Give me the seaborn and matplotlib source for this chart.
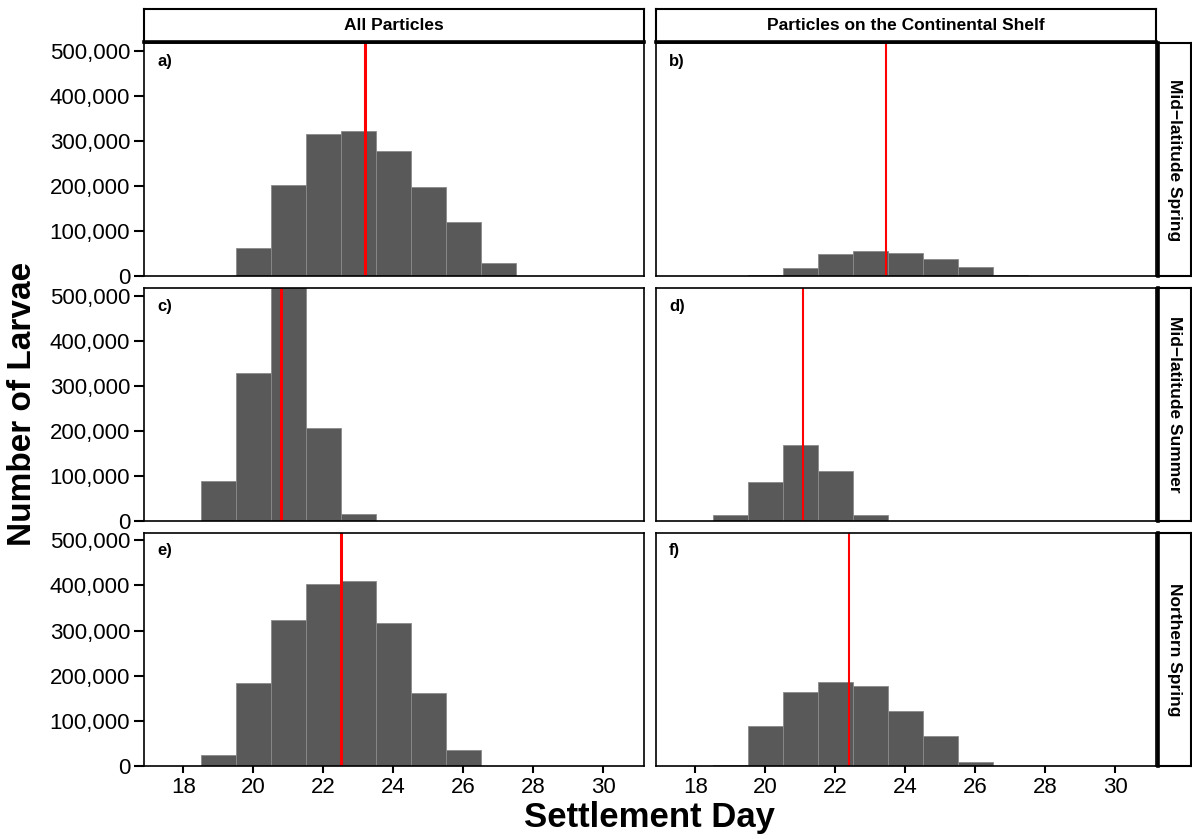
import matplotlib
matplotlib.use("Agg")
import matplotlib.pyplot as plt
import matplotlib.ticker as mticker
import numpy as np
import pandas as pd
import seaborn as sns

# settlement day bins (centred on integer days), counts
days = [19, 20, 21, 22, 23, 24, 25, 26, 27]
all_spring = [0, 63000, 202000, 315000, 322000, 277000, 198000, 121000, 29000]
shelf_spring = [0, 2000, 18000, 49000, 57000, 51000, 39000, 20000, 2500]
all_summer = [89000, 329000, 560000, 206000, 17000, 0, 0, 0, 0]
shelf_summer = [13000, 86000, 170000, 112000, 15000, 0, 0, 0, 0]
all_north = [24000, 183000, 323000, 402000, 409000, 316000, 161000, 35000, 0]
shelf_north = [3000, 89000, 163000, 186000, 178000, 122000, 66000, 8000, 0]

# mean settlement day (red lines)
mean_days = [23.18, 23.45, 20.79, 21.08, 22.51, 22.40]

columns = ["All Particles", "Particles on the Continental Shelf"]
rows = ["Mid\u2212latitude Spring", "Mid\u2212latitude Summer", "Northern Spring"]
panel_tags = ["a)", "b)", "c)", "d)", "e)", "f)"]
series = [all_spring, shelf_spring, all_summer, shelf_summer, all_north, shelf_north]

y_ticks = [0, 100000, 200000, 300000, 400000, 500000]
x_ticks = [18, 20, 22, 24, 26, 28, 30]

recs = []
for i, counts in enumerate(series):
    for d, c in zip(days, counts):
        recs.append({"row": rows[i // 2], "col": columns[i % 2], "day": d, "count": c})
df = pd.DataFrame(recs)

sns.set_theme(style="white")
plt.rcParams["font.family"] = ["Liberation Sans", "DejaVu Sans"]

W, H = 1192, 839
fig = plt.figure(figsize=(W / 100, H / 100), dpi=100)


def box(x, y, w, h):
    return [x / W, 1 - (y + h) / H, w / W, h / H]


col_x = [144, 656]
row_y = [43.3, 288.3, 533]
pw, ph = 500, 233

for i in range(6):
    r, c = i // 2, i % 2
    ax = fig.add_axes(box(col_x[c], row_y[r], pw, ph))
    sub = df[(df["row"] == rows[r]) & (df["col"] == columns[c]) & (df["count"] > 0)]
    sns.histplot(data=sub, x="day", weights="count", discrete=True, ax=ax,
                 color="#595959", edgecolor="#8a8a8a", linewidth=0.6, alpha=1)
    ax.axvline(mean_days[i], color="#ff0000", lw=2.2 if c == 0 else 1.5)
    ax.set_xlim(16.877, 31.163)
    ax.set_ylim(0, 516000)
    ax.set_xticks(x_ticks)
    ax.set_yticks(y_ticks)
    ax.yaxis.set_major_formatter(mticker.FuncFormatter(lambda v, p: f"{int(v):,}"))
    ax.set_xlabel("")
    ax.set_ylabel("")
    for s in ax.spines.values():
        s.set_color("black")
        s.set_linewidth(1.2)
    ax.tick_params(axis="y", left=(c == 0), labelleft=(c == 0), length=7, width=1.5,
                   labelsize=16, colors="black", pad=3)
    ax.tick_params(axis="x", bottom=(r == 2), labelbottom=(r == 2), length=5, width=1.5,
                   labelsize=16, colors="black", pad=3)
    ax.text(0.026, 0.955, panel_tags[i], transform=ax.transAxes, fontsize=12,
            fontweight="bold", va="top", ha="left", color="black")

# facet strips: columns on top, rows on the right
for c in range(2):
    sx = fig.add_axes(box(col_x[c], 9, pw, 33))
    sx.set_xticks([])
    sx.set_yticks([])
    sx.set_facecolor("white")
    for k, s in sx.spines.items():
        s.set_color("black")
        s.set_linewidth(2.6 if k == "bottom" else 1.5)
    sx.text(0.5, 0.5, columns[c], transform=sx.transAxes, ha="center", va="center",
            fontsize=12.5, fontweight="bold", color="black")

for r in range(3):
    sy = fig.add_axes(box(1158, row_y[r], 33, ph))
    sy.set_xticks([])
    sy.set_yticks([])
    sy.set_facecolor("white")
    for k, s in sy.spines.items():
        s.set_color("black")
        s.set_linewidth(2.6 if k == "left" else 1.5)
    sy.text(0.5, 0.5, rows[r], transform=sy.transAxes, ha="center", va="center",
            rotation=-90, fontsize=12.5, fontweight="bold", color="black")

fig.text(23 / W, 1 - 404 / H, "Number of Larvae", rotation=90, ha="center", va="center",
         fontsize=24, fontweight="bold", color="black")
fig.text(650 / W, 1 - 818 / H, "Settlement Day", ha="center", va="center",
         fontsize=25, fontweight="bold", color="black")

fig.savefig("out.png", dpi=100)
